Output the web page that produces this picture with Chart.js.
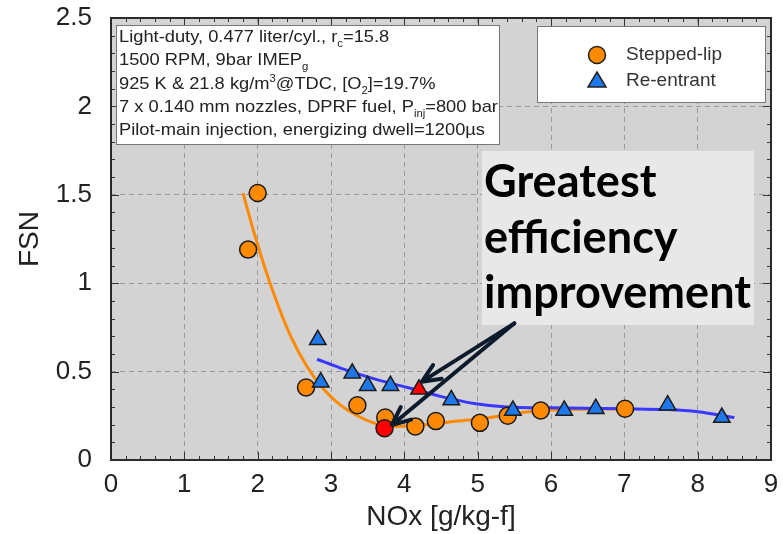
<!DOCTYPE html>
<html>
<head>
<meta charset="utf-8">
<script src="https://cdn.jsdelivr.net/npm/chart.js@4.4.1/dist/chart.umd.min.js"></script>
<style>
  html, body { margin: 0; padding: 0; background: #fff; }
</style>
</head>
<body>
<canvas id="fsn-chart" width="783" height="534"></canvas>
<script>
// measured points, Stepped-lip (last one is the highlighted red point)
const steppedX = [1.87, 2.00, 2.66, 3.36, 3.74, 4.15, 4.43, 5.03, 5.41, 5.86, 7.01, 3.73];
const steppedY = [1.19, 1.51, 0.41, 0.31, 0.24, 0.19, 0.22, 0.21, 0.25, 0.28, 0.29, 0.18];

// measured points, Re-entrant (last one is the highlighted red point)
const reentrantX = [2.82, 2.86, 3.29, 3.50, 3.81, 4.64, 5.48, 6.18, 6.61, 7.59, 8.33, 4.20];
const reentrantY = [0.68, 0.44, 0.49, 0.42, 0.42, 0.34, 0.28, 0.28, 0.29, 0.31, 0.24, 0.40];

// trend curves
const steppedFitX = [1.80, 1.99, 2.22, 2.45, 2.67, 2.90, 3.13, 3.36, 3.58, 3.81, 4.27, 4.72, 5.18, 5.63, 6.20, 7.00];
const steppedFitY = [1.51, 1.23, 0.94, 0.70, 0.53, 0.40, 0.31, 0.25, 0.21, 0.19, 0.20, 0.22, 0.24, 0.27, 0.285, 0.29];
const reentrantFitX = [2.81, 3.13, 3.58, 4.04, 4.49, 4.95, 5.40, 6.00, 7.00, 7.60, 8.00, 8.50];
const reentrantFitY = [0.57, 0.52, 0.46, 0.41, 0.36, 0.32, 0.30, 0.295, 0.29, 0.285, 0.273, 0.24];

// tick labels
const xTicks = [0, 1, 2, 3, 4, 5, 6, 7, 8, 9];
const yTicks = [0, 0.5, 1, 1.5, 2, 2.5];

// arrow: start point and the two targets (data units)
const arrowFrom = [5.50, 0.773];
const arrowTo = [[4.24, 0.443], [3.83, 0.198]];

const infoLines = [
    [['Light-duty, 0.477 liter/cyl., r'], ['c', 'sub'], ['=15.8']],
    [['1500 RPM, 9bar IMEP'], ['g', 'sub']],
    [['925 K & 21.8 kg/m'], ['3', 'sup'], ['@TDC, [O'], ['2', 'sub'], [']=19.7%']],
    [['7 x 0.140 mm nozzles, DPRF fuel, P'], ['inj', 'sub'], ['=800 bar']],
    [['Pilot-main injection, energizing dwell=1200\u00b5s']]
];
const calloutLines = ['Greatest', 'efficiency', 'improvement'];

const ORANGE = '#ff8a00';
const BLUE = '#1f78ea';
const RED = '#ff0000';

function toPoints(xs, ys) {
    return xs.map((x, i) => ({ x: x, y: ys[i] }));
}

function pointColors(n, base) {
    const arr = new Array(n).fill(base);
    arr[n - 1] = RED;
    return arr;
}

const FONT = '"Liberation Sans", Arial, Helvetica, sans-serif';

function drawRich(ctx, segs, x, y, size) {
    let cx = x;
    segs.forEach(([t, kind]) => {
        let fs = size, dy = 0;
        if (kind === 'sub') { fs = size * 0.62; dy = size * 0.3; }
        if (kind === 'sup') { fs = size * 0.62; dy = -size * 0.38; }
        ctx.font = fs + 'px ' + FONT;
        ctx.fillText(t, cx, y + dy);
        cx += ctx.measureText(t).width;
    });
}

const decorations = {
    id: 'decorations',
    beforeDraw(chart) {
        const { ctx, chartArea: a } = chart;
        ctx.save();
        ctx.fillStyle = '#d3d3d3';
        ctx.fillRect(a.left, a.top, a.right - a.left, a.bottom - a.top);
        ctx.restore();
    },
    afterDraw(chart) {
        const { ctx, chartArea: a } = chart;
        const xs = chart.scales.x, ys = chart.scales.y;
        ctx.save();

        // inner tick marks on all four sides
        ctx.strokeStyle = '#333';
        ctx.lineWidth = 1;
        ctx.beginPath();
        for (let i = 0; i <= 45; i++) {
            const px = Math.round(xs.getPixelForValue(i * 0.2)) + 0.5;
            const len = i % 5 === 0 ? 8 : 4;
            ctx.moveTo(px, a.bottom); ctx.lineTo(px, a.bottom - len);
            ctx.moveTo(px, a.top); ctx.lineTo(px, a.top + len);
        }
        for (let i = 0; i <= 25; i++) {
            const py = Math.round(ys.getPixelForValue(i * 0.1)) + 0.5;
            const len = i % 5 === 0 ? 8 : 4;
            ctx.moveTo(a.left, py); ctx.lineTo(a.left + len, py);
            ctx.moveTo(a.right, py); ctx.lineTo(a.right - len, py);
        }
        ctx.stroke();

        // plot frame
        ctx.strokeStyle = '#2a2a2a';
        ctx.lineWidth = 2;
        ctx.strokeRect(a.left, a.top, a.right - a.left, a.bottom - a.top);

        // conditions box
        ctx.fillStyle = '#fff';
        ctx.fillRect(116, 25, 383, 119);
        ctx.strokeStyle = '#777';
        ctx.lineWidth = 1;
        ctx.strokeRect(116.5, 25.5, 383, 119);
        ctx.fillStyle = '#222';
        ctx.textBaseline = 'alphabetic';
        ctx.textAlign = 'left';
        ctx.font = '17px ' + FONT;
        const natural = ctx.measureText(infoLines[4][0][0]).width;
        const sx = 366 / natural;
        infoLines.forEach((segs, i) => {
            ctx.save();
            ctx.translate(119, 42 + i * 23.3);
            ctx.scale(sx, 1);
            drawRich(ctx, segs, 0, 0, 17);
            ctx.restore();
        });

        // legend box
        ctx.fillStyle = '#fff';
        ctx.fillRect(537, 26, 228, 76);
        ctx.strokeStyle = '#777';
        ctx.strokeRect(537.5, 26.5, 228, 76);
        ctx.beginPath();
        ctx.arc(597, 55, 8.5, 0, Math.PI * 2);
        ctx.fillStyle = ORANGE; ctx.fill();
        ctx.strokeStyle = '#222'; ctx.lineWidth = 1.5; ctx.stroke();
        ctx.beginPath();
        ctx.moveTo(597, 72); ctx.lineTo(606, 87); ctx.lineTo(588, 87); ctx.closePath();
        ctx.fillStyle = BLUE; ctx.fill(); ctx.stroke();
        ctx.fillStyle = '#333';
        ctx.font = '19px ' + FONT;
        ctx.textBaseline = 'middle';
        ctx.fillText('Stepped-lip', 626, 55);
        ctx.fillText('Re-entrant', 626, 81);

        // callout
        ctx.fillStyle = '#e8e8e8';
        ctx.fillRect(482, 151, 272, 174);
        ctx.fillStyle = '#000';
        ctx.textBaseline = 'alphabetic';
        ctx.font = 'bold 40px Lato, "Open Sans", sans-serif';
        const w = ctx.measureText(calloutLines[2]).width;
        const fs = 40 * 267 / w;
        ctx.font = 'bold ' + fs.toFixed(1) + 'px Lato, "Open Sans", sans-serif';
        calloutLines.forEach((t, i) => ctx.fillText(t, 484, 197 + i * 55.5));

        // arrows
        const x0 = xs.getPixelForValue(arrowFrom[0]);
        const y0 = ys.getPixelForValue(arrowFrom[1]);
        ctx.strokeStyle = '#0c1b2c';
        ctx.lineWidth = 4;
        ctx.lineCap = 'round';
        arrowTo.forEach(([tx, ty]) => {
            const x1 = xs.getPixelForValue(tx), y1 = ys.getPixelForValue(ty);
            const ang = Math.atan2(y1 - y0, x1 - x0);
            ctx.beginPath();
            ctx.moveTo(x0, y0); ctx.lineTo(x1, y1);
            ctx.moveTo(x1, y1);
            ctx.lineTo(x1 - 20 * Math.cos(ang - 0.42), y1 - 20 * Math.sin(ang - 0.42));
            ctx.moveTo(x1, y1);
            ctx.lineTo(x1 - 20 * Math.cos(ang + 0.42), y1 - 20 * Math.sin(ang + 0.42));
            ctx.stroke();
        });
        ctx.restore();
    }
};

const tickFont = { family: FONT, size: 26 };
const titleFont = { family: FONT, size: 28 };

new Chart(document.getElementById('fsn-chart'), {
    type: 'scatter',
    data: {
        datasets: [
            {
                label: 'Re-entrant',
                data: toPoints(reentrantX, reentrantY),
                pointStyle: 'triangle',
                pointRadius: 9.5,
                backgroundColor: pointColors(reentrantX.length, BLUE),
                borderColor: '#1a1a1a',
                borderWidth: 1.5
            },
            {
                label: 'Stepped-lip',
                data: toPoints(steppedX, steppedY),
                pointStyle: 'circle',
                pointRadius: 8.5,
                backgroundColor: pointColors(steppedX.length, ORANGE),
                borderColor: '#1a1a1a',
                borderWidth: 1.5
            },
            {
                label: 'Re-entrant fit',
                data: toPoints(reentrantFitX, reentrantFitY),
                showLine: true,
                pointRadius: 0,
                borderColor: '#3838ff',
                borderWidth: 3,
                cubicInterpolationMode: 'monotone'
            },
            {
                label: 'Stepped-lip fit',
                data: toPoints(steppedFitX, steppedFitY),
                showLine: true,
                pointRadius: 0,
                borderColor: ORANGE,
                borderWidth: 3,
                cubicInterpolationMode: 'monotone'
            }
        ]
    },
    options: {
        responsive: false,
        animation: false,
        layout: { padding: { top: 0, right: 12, left: 0, bottom: 0 } },
        plugins: {
            legend: { display: false },
            tooltip: { enabled: false }
        },
        scales: {
            x: {
                type: 'linear',
                min: 0,
                max: 9,
                afterBuildTicks: s => { s.ticks = xTicks.map(v => ({ value: v })); },
                afterFit: s => { s.height = 74; },
                // label gap done with an invisible tick mark so it adds no side padding
                ticks: { font: tickFont, color: '#222', padding: 0, maxRotation: 0, callback: v => String(v) },
                grid: { color: '#9a9a9a', lineWidth: 1, drawTicks: true, tickLength: 9, tickColor: 'rgba(0,0,0,0)' },
                border: { display: false, dash: [5, 4] },
                title: { display: true, text: 'NOx [g/kg-f]', font: titleFont, color: '#222', padding: { top: 0, bottom: 0 } }
            },
            y: {
                type: 'linear',
                min: 0,
                max: 2.5,
                afterBuildTicks: s => { s.ticks = yTicks.map(v => ({ value: v })); },
                afterFit: s => { s.width = 111; },
                ticks: { font: tickFont, color: '#222', padding: 2.4, callback: v => String(v) },
                grid: { color: '#9a9a9a', lineWidth: 1, drawTicks: true, tickLength: 16.6, tickColor: 'rgba(0,0,0,0)' },
                border: { display: false, dash: [5, 4] },
                title: { display: true, text: 'FSN', font: titleFont, color: '#222', padding: { top: 13, bottom: 0 } }
            }
        }
    },
    plugins: [decorations]
});
</script>
</body>
</html>
